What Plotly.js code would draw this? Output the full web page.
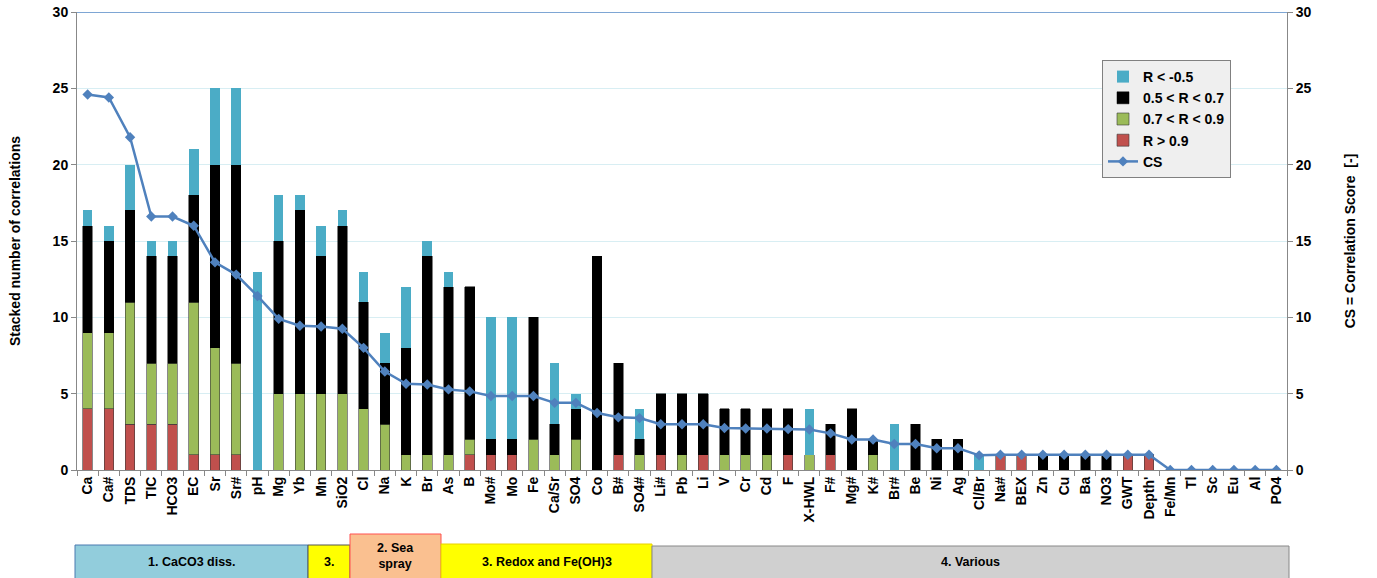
<!DOCTYPE html>
<html><head><meta charset="utf-8">
<script src="https://cdn.plot.ly/plotly-3.0.1.min.js"></script>
<style>body{margin:0;background:#fff}#c{width:1377px;height:578px}</style>
</head><body><div id="c"></div>
<script>
const categories = ["Ca","Ca#","TDS","TIC","HCO3","EC","Sr","Sr#","pH","Mg","Yb","Mn","SiO2","Cl","Na","K","Br","As","B","Mo#","Mo","Fe","Ca/Sr","SO4","Co","B#","SO4#","Li#","Pb","Li","V","Cr","Cd","F","X-HWL","F#","Mg#","K#","Br#","Be","Ni","Ag","Cl/Br","Na#","BEX","Zn","Cu","Ba","NO3","GWT","Depth'","Fe/Mn","Tl","Sc","Eu","Al","PO4"];
const rGt09   = [4,4,3,3,3,1,1,1,0,0,0,0,0,0,0,0,0,0,1,1,1,0,0,0,0,1,0,1,0,1,0,0,0,1,0,1,0,0,0,0,0,0,0,1,1,0,0,0,0,1,1,0,0,0,0,0,0];
const r07_09  = [5,5,8,4,4,10,7,6,0,5,5,5,5,4,3,1,1,1,1,0,0,2,1,2,0,0,1,0,1,0,1,1,1,0,1,0,0,1,0,0,0,0,0,0,0,0,0,0,0,0,0,0,0,0,0,0,0];
const r05_07  = [7,6,6,7,7,7,12,13,0,10,12,9,11,7,4,7,13,11,10,1,1,8,2,2,14,6,1,4,4,4,3,3,3,3,0,2,4,1,0,3,2,2,0,0,0,1,1,1,1,0,0,0,0,0,0,0,0];
const rLtNeg  = [1,1,3,1,1,3,5,5,13,3,1,2,1,2,2,4,1,1,0,8,8,0,4,1,0,0,2,0,0,0,0,0,0,0,3,0,0,0,3,0,0,0,1,0,0,0,0,0,0,0,0,0,0,0,0,0,0];
const csScore = [24.6,24.4,21.8,16.6,16.6,16.0,13.6,12.8,11.4,9.9,9.45,9.4,9.25,8.0,6.45,5.65,5.6,5.28,5.15,4.85,4.85,4.85,4.4,4.4,3.73,3.45,3.4,3.0,3.0,3.0,2.75,2.72,2.72,2.68,2.65,2.4,2.0,2.0,1.7,1.7,1.42,1.42,0.96,1.0,1.0,1.0,1.0,1.0,1.0,1.0,1.0,0,0,0,0,0,0];
const groupLabels = ["1. CaCO3 diss.","3.","2. Sea<br>spray","3. Redox and Fe(OH)3","4. Various"];

const FONT = "Liberation Sans, Arial, sans-serif";
const L = 77, R = 1287, T = 12, B = 470;
const px = x => (x - L) / (R - L);
const py = y => (B - y) / (B - T);

const barLine = {color:'#3a3a3a', width:0.6};
const traces = [
  {type:'bar', name:'R > 0.9', x:categories, y:rGt09, marker:{color:'#c0504d', line:barLine}, legendrank:4},
  {type:'bar', name:'0.7 < R < 0.9', x:categories, y:r07_09, marker:{color:'#9bbb59', line:barLine}, legendrank:3},
  {type:'bar', name:'0.5 < R < 0.7', x:categories, y:r05_07, marker:{color:'#000000', line:{color:'#000',width:0.5}}, legendrank:2},
  {type:'bar', name:'R < -0.5', x:categories, y:rLtNeg, marker:{color:'#4bacc6', line:{width:0}}, legendrank:1},
  {type:'scatter', mode:'lines+markers', name:'CS', x:categories, y:csScore, yaxis:'y2',
   line:{color:'#4f81bd', width:2.5}, marker:{symbol:'diamond', size:8, color:'#4f81bd'}, legendrank:5}
];

const boxes = [
  {x0:75, x1:308, y0:545, fill:'#92cddc', line:'#4a7ab0'},
  {x0:308, x1:350, y0:545, fill:'#ffff00', line:'#555555'},
  {x0:350, x1:441, y0:534, fill:'#fac090', line:'#ff5050'},
  {x0:441, x1:652, y0:544, fill:'#ffff00', line:'#e8d000'},
  {x0:652, x1:1289, y0:546, fill:'#d0d0d0', line:'#888888'}
];
const shapes = boxes.map(b => ({type:'rect', xref:'paper', yref:'paper', x0:px(b.x0), x1:px(b.x1), y0:py(b.y0), y1:py(585),
  fillcolor:b.fill, line:{color:b.line, width:1}, layer:'above'}));
shapes.push({type:'line', xref:'paper', yref:'y', x0:0, x1:1, y0:30, y1:30, line:{color:'#7ea6d4', width:2}});
const annotations = boxes.map((b,i) => ({xref:'paper', yref:'paper', x:px((b.x0+b.x1)/2), y:py(i===2 ? 556 : 562),
  text:'<b>'+groupLabels[i]+'</b>', showarrow:false, font:{family:FONT, size:12.5, color:'#000'}, xanchor:'center', yanchor:'middle'}));

const layout = {
  width:1377, height:578,
  margin:{l:L, r:1377-R, t:T, b:578-B},
  paper_bgcolor:'#fff', plot_bgcolor:'#fff',
  barmode:'stack', bargap:0.55,
  font:{family:FONT, size:14, color:'#000'},
  showlegend:true,
  legend:{x:px(1102), y:py(60), xanchor:'left', yanchor:'top', bgcolor:'#efefef', bordercolor:'#808080', borderwidth:1,
    traceorder:'normal', font:{family:FONT, size:14, color:'#000', weight:'bold'}, tracegroupgap:0, itemwidth:30},
  xaxis:{type:'category', range:[-0.5, categories.length-0.5], autorange:false, tickangle:-90, tickson:'boundaries', ticks:'outside', ticklen:5, tickcolor:'#888',
    showline:true, linecolor:'#888', linewidth:1, showgrid:false,
    tickfont:{family:FONT, size:14, weight:'bold'}},
  yaxis:{range:[0,30], tickvals:[0,5,10,15,20,25,30], ticks:'outside', ticklen:5, tickcolor:'#888',
    showline:true, linecolor:'#888', gridcolor:'#d8eef3', gridwidth:1, zeroline:false,
    tickfont:{family:FONT, size:14, weight:'bold'},
    title:{text:'<b>Stacked number of correlations</b>', font:{family:FONT, size:14}, standoff:28}},
  yaxis2:{range:[0,30], tickvals:[0,5,10,15,20,25,30], overlaying:'y', side:'right', ticks:'outside', ticklen:5, tickcolor:'#888',
    showline:true, linecolor:'#888', showgrid:false, zeroline:false,
    tickfont:{family:FONT, size:14, weight:'bold'},
    title:{text:'<b>CS = Correlation Score  [-]</b>', font:{family:FONT, size:14}, standoff:34}},
  shapes:shapes, annotations:annotations
};
Plotly.newPlot('c', traces, layout, {displayModeBar:false, staticPlot:true});
</script></body></html>
